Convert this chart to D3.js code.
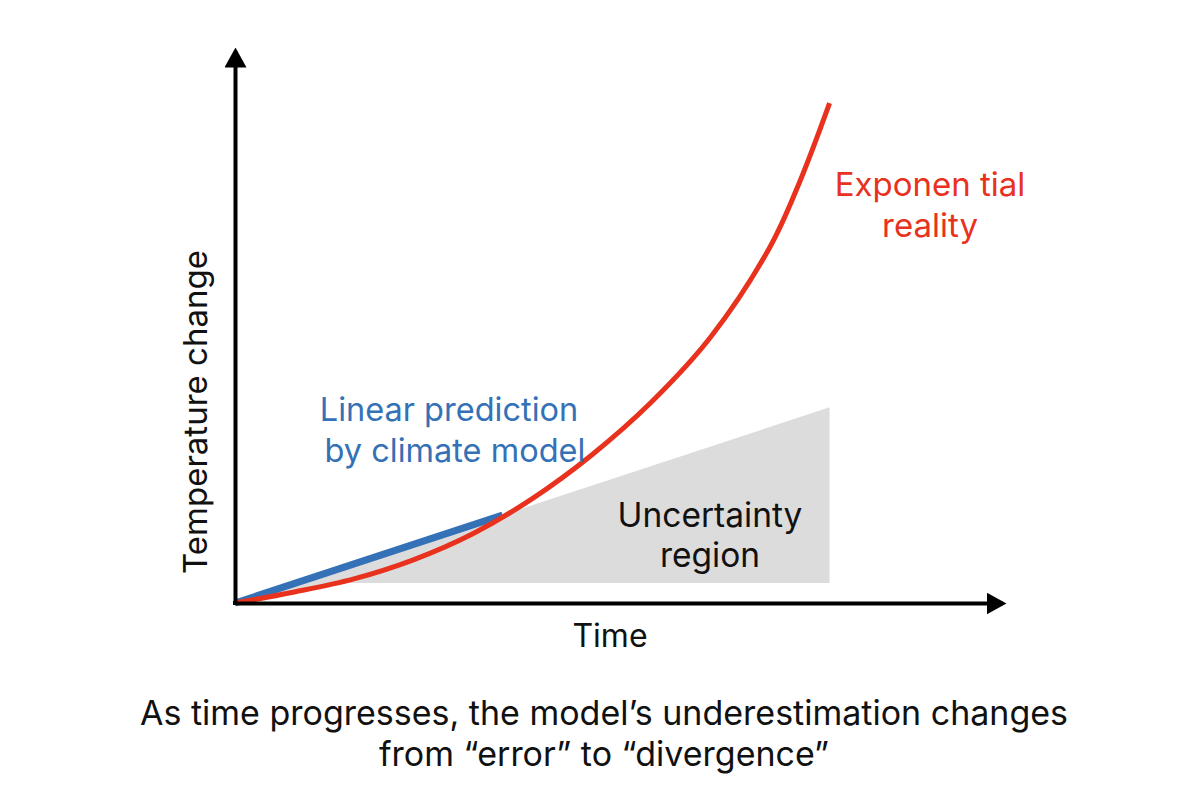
<!DOCTYPE html>
<html>
<head>
<meta charset="utf-8">
<script src="https://cdn.jsdelivr.net/npm/d3@7"></script>
<style>
  body { margin: 0; background: #fff; }
  text { font-family: Inter, "Liberation Sans", sans-serif; }
</style>
</head>
<body>
<script>
// time steps and the "real" exponential temperature curve
var timeSteps = [0, 1, 2, 3, 4, 5, 6, 7, 8, 9, 9.5, 10];
var exponentialReality = [0, 0.22, 0.48, 0.86, 1.38, 2.08, 2.95, 4.0, 5.3, 7.1, 8.4, 9.96];

// linear model prediction
var linearTime = [0, 4.5];
var linearPrediction = [0, 1.75];

// uncertainty region (polygon corners)
var uncertaintyTime = [0, 10, 10, 1.9];
var uncertaintyTemp = [0, 3.9, 0.4, 0.4];

var width = 1200,
    height = 800;

var x = d3.scaleLinear()
    .domain([0, 12.9])
    .range([235, 1002]);

var y = d3.scaleLinear()
    .domain([0, 11])
    .range([603, 51]);

var svg = d3.select('body')
    .append('svg')
    .attr('width', width)
    .attr('height', height);

svg.append('defs').append('marker')
    .attr('id', 'arrow')
    .attr('viewBox', '0 0 20 22')
    .attr('markerUnits', 'userSpaceOnUse')
    .attr('markerWidth', 20)
    .attr('markerHeight', 22)
    .attr('refX', 16)
    .attr('refY', 11)
    .attr('orient', 'auto')
    .append('path')
    .attr('d', 'M0,0L20,11L0,22Z')
    .attr('fill', '#000');

// gray uncertainty region
var region = uncertaintyTime.map(function(t, i) { return [x(t), y(uncertaintyTemp[i])]; });
svg.append('path')
    .attr('d', 'M' + region.join('L') + 'Z')
    .attr('fill', '#dcdcdc');

// blue linear prediction
var line = d3.line()
    .x(function(d) { return x(d[0]); })
    .y(function(d) { return y(d[1]); });

svg.append('path')
    .datum(linearTime.map(function(t, i) { return [t, linearPrediction[i]]; }))
    .attr('d', line)
    .attr('fill', 'none')
    .attr('stroke', '#3471b6')
    .attr('stroke-width', 7);

// red exponential reality
svg.append('path')
    .datum(timeSteps.map(function(t, i) { return [t, exponentialReality[i]]; }))
    .attr('d', line.curve(d3.curveCatmullRom.alpha(0.5)))
    .attr('fill', 'none')
    .attr('stroke', '#e8321e')
    .attr('stroke-width', 5);

// axes without ticks, just arrows
var xAxis = d3.axisBottom(x).tickValues([]).tickSizeOuter(0);
var yAxis = d3.axisLeft(y).tickValues([]).tickSizeOuter(0);

svg.append('g')
    .attr('transform', 'translate(0,' + y(0) + ')')
    .call(xAxis)
    .select('.domain')
    .attr('stroke', '#000')
    .attr('stroke-width', 4)
    .attr('marker-end', 'url(#arrow)');

svg.append('g')
    .attr('transform', 'translate(' + x(0) + ',0)')
    .call(yAxis)
    .select('.domain')
    .attr('stroke', '#000')
    .attr('stroke-width', 4)
    .attr('marker-end', 'url(#arrow)');

// corner fill so the two axis lines meet square
svg.append('rect')
    .attr('x', x(0) - 2)
    .attr('y', y(0) - 2)
    .attr('width', 4)
    .attr('height', 4)
    .attr('fill', '#000');

function label(txt, cx, by, color, size) {
    svg.append('text')
        .attr('x', cx)
        .attr('y', by)
        .attr('text-anchor', 'middle')
        .attr('fill', color)
        .style('font-size', size + 'px')
        .text(txt);
}

label('Time', 610, 647, '#111', 32);

svg.append('text')
    .attr('transform', 'translate(207,412) rotate(-90)')
    .attr('text-anchor', 'middle')
    .attr('fill', '#111')
    .style('font-size', '33px')
    .text('Temperature change');

label('Linear prediction', 449, 421, '#3471b6', 32.5);
label('by climate model', 455, 462, '#3471b6', 32.5);

label('Exponen tial', 930, 196, '#e8321e', 33);
label('reality', 930, 237, '#e8321e', 33);

label('Uncertainty', 710, 527, '#111', 33.5);
label('region', 710, 567, '#111', 33.5);

label('As time progresses, the model\u2019s underestimation changes', 604, 725, '#111', 34);
label('from \u201cerror\u201d to \u201cdivergence\u201d', 604, 766, '#111', 34);
</script>
</body>
</html>
